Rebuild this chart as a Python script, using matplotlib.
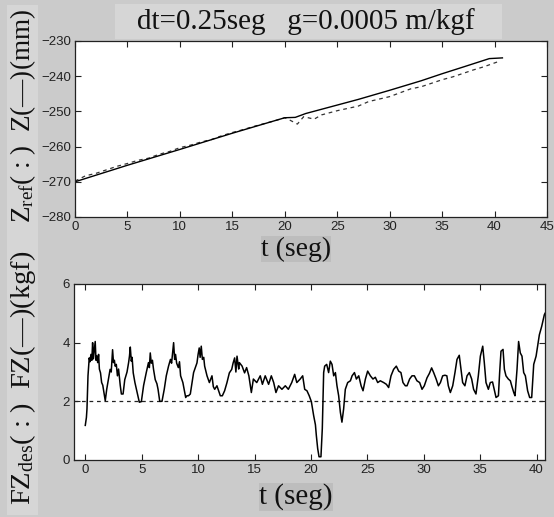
import matplotlib
matplotlib.use("Agg")
import matplotlib.pyplot as plt
from matplotlib.patches import Rectangle

# ---------------- data ----------------
t_z = [0, 5, 10, 15, 20, 21, 22, 25, 27, 30, 33, 35, 37, 39.5, 40.75]
z = [-270, -265.3, -260.8, -256.2, -251.8, -251.7, -250.6, -248.2, -246.6,
     -244.0, -241.3, -239.3, -237.4, -235.0, -234.8]

t_zref = [0, 1, 2, 3, 4, 5, 6, 7, 8, 9, 10, 11, 12, 13, 14, 15, 16, 17, 18, 19,
          20, 20.5, 21.2, 21.8, 22.8, 23.5, 25, 27, 28, 30, 32, 33, 35, 36, 37,
          38, 39, 40.5]
zref = [-269.8, -268.3, -267.6, -266.6, -265.6, -264.8, -263.9, -263.3, -262.2,
        -261.4, -260.3, -259.6, -258.7, -258.0, -256.9, -256.0, -255.2, -254.3,
        -253.5, -252.7, -251.8, -252.5, -253.6, -251.5, -252.2, -251.0, -249.8,
        -248.5, -247.2, -245.8, -243.6, -243.0, -241.0, -240.2, -239.2, -238.2,
        -237.3, -235.7]

t_fz = [0.00, 0.10, 0.15, 0.24, 0.35, 0.42, 0.50, 0.58, 0.65, 0.72, 0.80, 0.88,
        0.95, 1.02, 1.10, 1.18, 1.25, 1.35, 1.45, 1.55, 1.65, 1.77, 1.90, 2.05,
        2.20, 2.30, 2.42, 2.50, 2.58, 2.65, 2.75, 2.85, 2.95, 3.10, 3.20, 3.35,
        3.50, 3.70, 3.84, 3.92, 3.99, 4.08, 4.15, 4.25, 4.40, 4.60, 4.79, 4.97,
        5.17, 5.40, 5.60, 5.68, 5.76, 5.85, 5.95, 6.05, 6.20, 6.35, 6.45, 6.60,
        6.80, 7.00, 7.18, 7.38, 7.55, 7.65, 7.83, 7.92, 8.00, 8.10, 8.25, 8.35,
        8.45, 8.65, 8.90, 9.01, 9.15, 9.31, 9.60, 9.90, 10.00, 10.10, 10.18,
        10.28, 10.38, 10.50, 10.58, 10.79, 11.00, 11.23, 11.35, 11.47, 11.67,
        11.97, 12.15, 12.35, 12.56, 12.77, 12.98, 13.10, 13.24, 13.35, 13.45,
        13.60, 13.66, 13.90, 14.12, 14.30, 14.50, 14.72, 14.90, 15.20, 15.51,
        15.70, 15.95, 16.25, 16.49, 16.70, 16.90, 17.13, 17.43, 17.73, 18.00,
        18.30, 18.56, 18.75, 19.05, 19.27, 19.45, 19.65, 19.85, 20.04, 20.24,
        20.40, 20.48, 20.60, 20.72, 20.89, 21.01, 21.13, 21.22, 21.40, 21.57,
        21.72, 21.87, 22.02, 22.17, 22.31, 22.46, 22.61, 22.75, 22.90, 23.05,
        23.26, 23.50, 23.65, 23.86, 24.03, 24.24, 24.45, 24.62, 24.83, 25.03,
        25.27, 25.50, 25.71, 25.92, 26.15, 26.45, 26.69, 26.89, 27.10, 27.33,
        27.57, 27.78, 27.98, 28.16, 28.37, 28.52, 28.75, 28.96, 29.17, 29.40,
        29.64, 29.85, 30.05, 30.29, 30.50, 30.70, 30.88, 31.10, 31.30, 31.48,
        31.68, 31.88, 32.05, 32.18, 32.36, 32.57, 32.77, 32.95, 33.15, 33.30,
        33.45, 33.65, 33.84, 34.04, 34.25, 34.42, 34.63, 34.84, 35.02, 35.23,
        35.37, 35.52, 35.73, 35.90, 36.10, 36.25, 36.41, 36.62, 36.73, 36.85,
        37.03, 37.15, 37.29, 37.50, 37.68, 37.80, 37.98, 38.09, 38.27, 38.41,
        38.56, 38.71, 38.86, 39.01, 39.21, 39.39, 39.57, 39.75, 39.96, 40.25,
        40.46, 40.69, 40.75]
fz = [1.18, 1.45, 1.74, 2.87, 3.48, 3.35, 3.60, 3.40, 4.00, 3.45, 3.75, 4.04,
      3.40, 3.55, 3.32, 3.60, 3.10, 2.97, 2.64, 2.55, 2.30, 2.02, 2.41, 2.75,
      3.09, 3.00, 3.76, 3.32, 3.40, 3.20, 3.26, 2.87, 3.10, 2.54, 2.25, 2.25,
      2.74, 3.00, 3.32, 3.55, 3.85, 3.37, 3.50, 2.97, 2.64, 2.30, 1.97, 1.99,
      2.54, 2.97, 3.32, 3.15, 3.65, 3.30, 3.40, 3.09, 2.74, 2.60, 2.41, 2.00,
      2.00, 2.41, 2.87, 3.20, 3.43, 3.30, 4.00, 3.43, 3.60, 3.30, 3.15, 3.35,
      2.87, 2.64, 2.13, 2.19, 2.19, 2.25, 2.98, 3.31, 3.60, 3.82, 3.50,
      3.88, 3.43, 3.50, 3.20, 2.87, 2.64, 2.87, 2.50, 2.41, 2.53,
      2.19, 2.19, 2.36, 2.64, 2.97, 3.09, 3.30, 3.48, 3.00, 3.54,
      3.10, 3.32, 3.20, 2.97, 3.15, 2.87, 2.30, 2.76, 2.64, 2.87,
      2.58, 2.87, 2.58, 2.87, 2.64, 2.30, 2.53, 2.41, 2.53, 2.41,
      2.64, 2.92, 2.64, 2.76, 2.87, 2.41, 2.36, 2.19, 1.99, 1.52,
      1.20, 0.84, 0.39, 0.11, 0.11, 1.07, 2.98, 3.20, 3.26, 2.98,
      3.37, 3.26, 2.87, 2.98, 2.53, 2.19, 1.63, 1.29, 1.74, 2.41,
      2.64, 2.70, 2.87, 2.98, 2.76, 2.87, 2.53, 2.36, 2.76, 3.03,
      2.87, 2.76, 2.82, 2.64, 2.70, 2.64, 2.58, 2.47, 2.87, 3.09,
      3.20, 3.03, 2.98, 2.64, 2.53, 2.53, 2.76, 2.87, 2.87, 2.70,
      2.64, 2.41, 2.53, 2.80, 2.95, 3.14, 2.98, 2.76, 2.53, 2.64,
      2.87, 2.89, 2.87, 2.53, 2.30, 2.53, 2.98, 3.43, 3.57, 3.09,
      2.64, 2.53, 2.87, 2.98, 2.76, 2.41, 2.25, 2.87, 3.54, 3.88,
      3.32, 2.64, 2.41, 2.64, 2.66, 2.41, 2.13, 2.19, 2.98, 3.71,
      3.77, 3.09, 2.87, 2.76, 2.70, 2.53, 2.30, 2.19, 3.09, 4.04,
      3.65, 3.54, 2.98, 2.87, 2.36, 2.13, 2.13, 3.26, 3.54, 4.27,
      4.56, 4.95, 5.00]

t_fzdes = [-1, 40.75]
fzdes = [2, 2]

top_xticks = [0, 5, 10, 15, 20, 25, 30, 35, 40, 45]
top_yticks = [-280, -270, -260, -250, -240, -230]
bot_xticks = [0, 5, 10, 15, 20, 25, 30, 35, 40]
bot_yticks = [0, 2, 4, 6]

title_text = "dt=0.25seg   g=0.0005 m/kgf"
top_ylabel = r"Z$_{\mathrm{ref}}$( : )  Z(—)(mm)"
bot_ylabel = r"FZ$_{\mathrm{des}}$( : )  FZ(—)(kgf)"
xlabel_text = "t (seg)"

# ---------------- style ----------------
plt.rcParams['mathtext.fontset'] = 'custom'
plt.rcParams['mathtext.rm'] = 'Liberation Serif'
plt.rcParams['mathtext.it'] = 'Liberation Serif'
SERIF = ['Liberation Serif', 'DejaVu Serif']
TICKFONT = ['Liberation Sans Narrow', 'Liberation Sans', 'DejaVu Sans']

W, H = 554, 517
fig = plt.figure(figsize=(W / 100, H / 100), dpi=100)
fig.patch.set_facecolor('#cbcbcb')

# lighter panels behind texts
fig.add_artist(Rectangle((7 / W, 1 - 515 / H), 31 / W, 510 / H,
                         transform=fig.transFigure, facecolor='#d6d6d6',
                         edgecolor='none', zorder=0))
fig.add_artist(Rectangle((115 / W, 1 - 39 / H), 387 / W, 35 / H,
                         transform=fig.transFigure, facecolor='#d6d6d6',
                         edgecolor='none', zorder=0))

def style_axes(ax):
    ax.set_facecolor('white')
    for s in ax.spines.values():
        s.set_linewidth(0.9)
        s.set_color('#222222')
    ax.tick_params(direction='in', top=True, right=True, length=4, width=0.8,
                   labelsize=9.5, pad=3, colors='#222222')
    for lab in ax.get_xticklabels() + ax.get_yticklabels():
        lab.set_family(TICKFONT)

ax1 = fig.add_axes([75 / W, 1 - 217 / H, 472 / W, 176 / H])
ax1.plot(t_zref, zref, color='#333333', lw=0.9, ls=(0, (3, 3)))
ax1.plot(t_z, z, color='black', lw=1.0)
ax1.set_xlim(0, 45)
ax1.set_ylim(-280, -230)
ax1.set_xticks(top_xticks)
ax1.set_yticks(top_yticks)
style_axes(ax1)

ax2 = fig.add_axes([74 / W, 1 - 460 / H, 471 / W, 176 / H])
ax2.plot(t_fzdes, fzdes, color='#222222', lw=0.9, ls=(0, (3, 3)))
ax2.plot(t_fz, fz, color='black', lw=1.1)
ax2.set_xlim(-1, 40.75)
ax2.set_ylim(0, 6)
ax2.set_xticks(bot_xticks)
ax2.set_yticks(bot_yticks)
style_axes(ax2)

fig.text(306 / W, 1 - 22 / H, title_text, ha='center', va='center',
         fontsize=21, family=SERIF, color='#111111')

fig.text(23 / W, 1 - 116 / H, top_ylabel, rotation=90, ha='center',
         va='center', fontsize=19.5, family=SERIF, color='#111111')
fig.text(23 / W, 1 - 378 / H, bot_ylabel, rotation=90, ha='center',
         va='center', fontsize=20.5, family=SERIF, color='#111111')

bb = dict(facecolor='#bdbdbd', edgecolor='none', pad=0.3)
fig.text(296 / W, 1 - 249 / H, xlabel_text, ha='center', va='center',
         fontsize=20, family=SERIF, color='#111111', bbox=bb)
fig.text(296 / W, 1 - 497 / H, xlabel_text, ha='center', va='center',
         fontsize=21, family=SERIF, color='#111111', bbox=bb)

fig.savefig('out.png', dpi=100, facecolor=fig.get_facecolor())
